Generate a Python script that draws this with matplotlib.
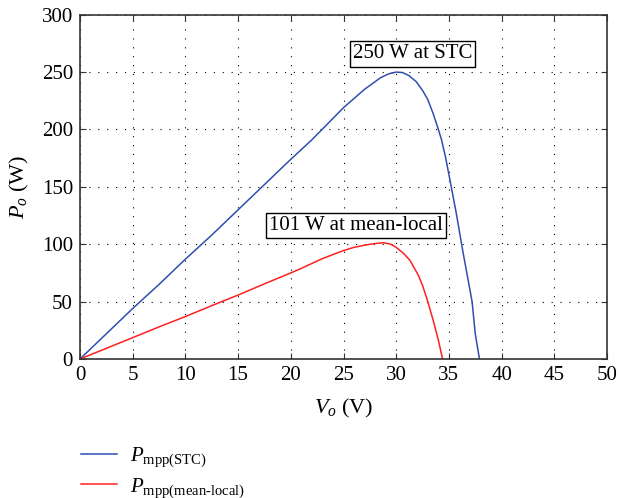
import matplotlib
matplotlib.use("Agg")
import matplotlib.pyplot as plt

plt.rcParams['font.family'] = ['Liberation Serif', 'DejaVu Serif']
plt.rcParams['mathtext.fontset'] = 'custom'
plt.rcParams['mathtext.rm'] = 'Liberation Serif'
plt.rcParams['mathtext.it'] = 'Liberation Serif:italic'

# Data
v_stc = [0, 2.5, 5, 7.5, 10, 12.5, 15, 17.5, 20, 22, 25, 27, 28.5, 29.3, 30.0, 30.6, 31.2, 31.9, 32.5, 33.0, 33.5, 34.0, 34.3, 34.7, 35.1, 35.7, 36.3, 36.7, 37.2, 37.5, 37.9]
p_stc = [0, 22, 44, 65, 87, 108, 130, 152, 174, 191, 219, 235, 245, 248.5, 250, 249.6, 247, 241.6, 234, 226, 214, 200, 191, 175, 156, 127, 95, 75, 50, 22, 0]

v_loc = [0, 2.5, 5, 7.5, 10, 12.5, 15, 17.5, 20, 21, 23, 25, 26, 27.2, 28.0, 28.8, 29.5, 30.0, 30.7, 31.3, 32.1, 32.5, 32.9, 33.5, 34.0, 34.4]
p_loc = [0, 9.3, 18.6, 28, 37, 46.5, 55.7, 65.5, 75, 79, 87.5, 94.5, 97.3, 99.5, 100.6, 101.3, 100, 97.3, 92, 86, 73, 64, 53, 34, 16.5, 0]

label_stc = r'$P_{\mathrm{mpp(STC)}}$'
label_loc = r'$P_{\mathrm{mpp(mean\text{-}local)}}$'

fig = plt.figure(figsize=(6.18, 4.98), dpi=100)
ax = fig.add_axes([80/618, 1-359/498, (607-80)/618, (359-14.7)/498])

l1, = ax.plot(v_stc, p_stc, color='#2f4fb0', lw=1.1, label=label_stc)
l2, = ax.plot(v_loc, p_loc, color='#ff2020', lw=1.1, label=label_loc)

ax.set_xlim(0, 50)
ax.set_ylim(0, 300)
ax.set_xticks(range(0, 51, 5))
ax.set_yticks(range(0, 301, 50))
ax.grid(True, color='black', linestyle=(0, (1, 7)), linewidth=0.8)
ax.tick_params(direction='in', top=True, right=True, labelsize=15, length=4,
               color='#333333', pad=5)
for s in ax.spines.values():
    s.set_color('#333333')
    s.set_linewidth(1.2)

ax.set_xlabel(r'$V_o$ (V)', fontsize=16, labelpad=9)
ax.set_ylabel(r'$P_o$ (W)', fontsize=16, labelpad=8)

bbox = dict(boxstyle='square,pad=0.15', fc='white', ec='black', lw=1.0)
ax.text(31.55, 265.8, '250 W at STC', fontsize=15, ha='center', va='center', bbox=bbox)
ax.text(26.2, 116.3, '101 W at mean-local', fontsize=15, ha='center', va='center', bbox=bbox)

fig.legend(handles=[l1, l2], loc='upper left', bbox_to_anchor=(77/618, 1-441/498),
           frameon=False, fontsize=15, handlelength=1.7, handletextpad=0.65,
           labelspacing=0.32, borderaxespad=0, borderpad=0.2)

fig.savefig('out.png', dpi=100)
